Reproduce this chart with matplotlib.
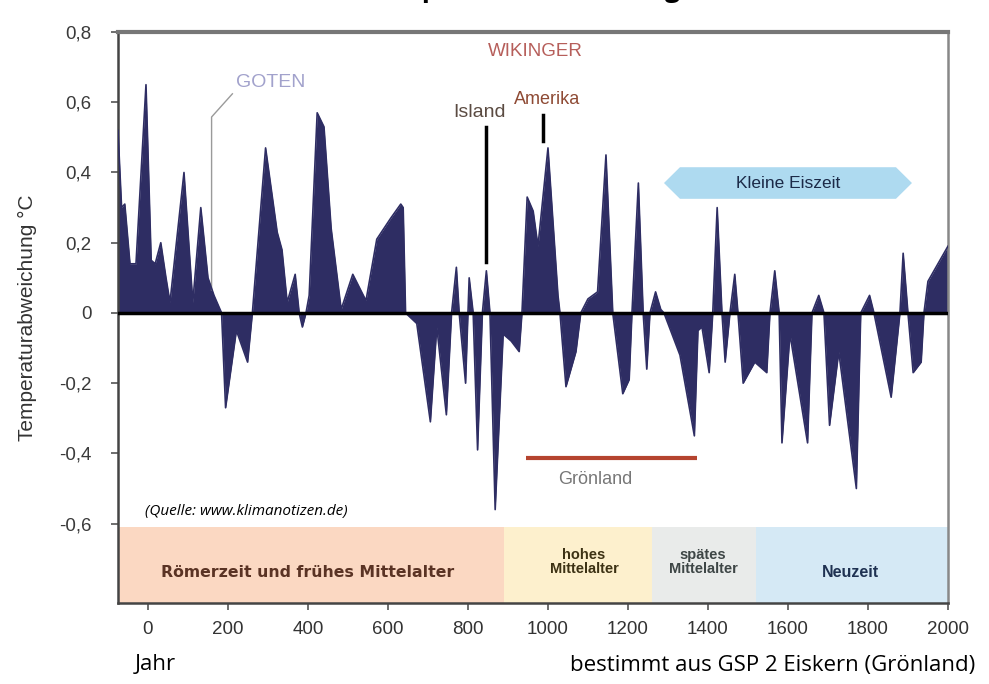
import numpy as np
import matplotlib.pyplot as plt
from matplotlib.patches import Polygon

years = [-75, -66, -58, -45, -30, -5, 8, 18, 32, 45, 55, 90, 112, 132, 150, 165, 184,
         194, 221, 249, 261, 294, 323, 335, 348, 368, 378, 386, 395, 403, 423, 440,
         458, 483, 512, 545, 572, 607, 632, 638, 644, 672, 706, 722, 746, 759, 771,
         778, 794, 800, 803, 813, 824, 836, 846, 855, 868, 888, 908, 928, 935, 948,
         963, 975, 1000, 1025, 1030, 1045, 1070, 1082, 1100, 1124, 1145, 1162, 1187,
         1203, 1210, 1226, 1238, 1247, 1255, 1269, 1282, 1290, 1330, 1366, 1375, 1385,
         1403, 1412, 1423, 1435, 1443, 1455, 1467, 1475, 1488, 1517, 1547, 1555, 1567,
         1578, 1585, 1605, 1649, 1660, 1677, 1690, 1704, 1727, 1771, 1782, 1804, 1815,
         1858, 1880, 1888, 1900, 1913, 1933, 1940, 1950, 2000]
temps = [0.52, 0.30, 0.31, 0.14, 0.14, 0.65, 0.15, 0.14, 0.20, 0.10, 0.03, 0.40, 0.03,
         0.30, 0.10, 0.05, 0.0, -0.27, -0.05, -0.14, 0.0, 0.47, 0.23, 0.18, 0.03, 0.11,
         0.0, -0.04, 0.0, 0.05, 0.57, 0.53, 0.24, 0.01, 0.11, 0.035, 0.21, 0.27, 0.31,
         0.30, 0.0, -0.03, -0.31, -0.04, -0.29, 0.0, 0.13, 0.0, -0.20, 0.0, 0.10, 0.0,
         -0.39, 0.0, 0.12, 0.0, -0.56, -0.06, -0.08, -0.11, 0.0, 0.33, 0.29, 0.19, 0.47,
         0.05, 0.0, -0.21, -0.11, 0.0, 0.04, 0.06, 0.45, 0.0, -0.23, -0.19, 0.0, 0.37,
         0.0, -0.16, 0.0, 0.06, 0.01, 0.0, -0.12, -0.35, -0.05, -0.04, -0.17, 0.0, 0.30,
         0.0, -0.14, 0.0, 0.11, 0.0, -0.20, -0.14, -0.17, 0.0, 0.12, 0.0, -0.37, -0.06,
         -0.37, 0.0, 0.05, 0.0, -0.32, -0.11, -0.50, 0.0, 0.05, 0.0, -0.24, 0.0, 0.17,
         0.0, -0.17, -0.14, 0.0, 0.09, 0.19]

era_labels = ['Römerzeit und frühes Mittelalter', 'hohes\nMittelalter',
              'spätes\nMittelalter', 'Neuzeit']
era_bounds = [-75, 890, 1260, 1520, 2000]
era_colors = ['#fbd8c2', '#fdf0cd', '#e9ebea', '#d5e9f5']
era_textcolors = ['#5a3324', '#3d3214', '#3e4646', '#1f3252']

xticks = list(range(0, 2001, 200))
yticks = [0.8, 0.6, 0.4, 0.2, 0, -0.2, -0.4, -0.6]
ytick_labels = ['0,8', '0,6', '0,4', '0,2', '0', '-0,2', '-0,4', '-0,6']

plt.rcParams['font.family'] = ['Liberation Sans', 'DejaVu Sans']

fig = plt.figure(figsize=(9.89, 6.84), dpi=100)
ax = fig.add_axes([0.1193, 0.1184, 0.8392, 0.8348])
ax.set_xlim(-75, 2000)
ax.set_ylim(-0.826, 0.8)

# Epochen-Bänder unten
band_top = -0.61
for i in range(len(era_labels)):
    ax.fill_between([era_bounds[i], era_bounds[i + 1]], -0.826, band_top,
                    color=era_colors[i], lw=0, zorder=0)
era_text_x = [400, 1090, 1388, 1755]
era_text_y = [-0.74, -0.71, -0.71, -0.74]
era_sizes = [11.3, 10.5, 10.5, 11.5]
for i, lab in enumerate(era_labels):
    ax.text(era_text_x[i], era_text_y[i], lab, ha='center', va='center',
            fontsize=era_sizes[i], fontweight='bold', color=era_textcolors[i],
            linespacing=1.0, family=['DejaVu Sans'] if i == 0 else ['Liberation Sans'])

# Temperaturkurve
navy = '#2e2d63'
ax.fill_between(years, temps, 0, color=navy, lw=0, zorder=2)
ax.plot(years, temps, color=navy, lw=1.2, zorder=3)
ax.axhline(0, color='black', lw=2.5, zorder=4)

# Annotationen
ax.text(968, 0.745, 'WIKINGER', ha='center', va='center', fontsize=13.5,
        color='#b65e5a')
ax.text(308, 0.657, 'GOTEN', ha='center', va='center', fontsize=14,
        color='#a2a2cc')
ax.plot([211, 159, 159], [0.624, 0.558, 0.065], color='#9a9a9a', lw=1)
ax.text(828, 0.572, 'Island', ha='center', va='center', fontsize=14,
        color='#5b4b42')
ax.plot([846, 846], [0.53, 0.145], color='black', lw=2.5)
ax.text(998, 0.608, 'Amerika', ha='center', va='center', fontsize=13,
        color='#8e4a34')
ax.plot([988, 988], [0.565, 0.49], color='black', lw=2.5)

# Kleine Eiszeit Pfeil
ice_x0, ice_x1, ice_y, ice_h, ice_head = 1290, 1910, 0.37, 0.045, 40
ax.add_patch(Polygon([(ice_x0, ice_y), (ice_x0 + ice_head, ice_y + ice_h),
                      (ice_x1 - ice_head, ice_y + ice_h), (ice_x1, ice_y),
                      (ice_x1 - ice_head, ice_y - ice_h), (ice_x0 + ice_head, ice_y - ice_h)],
                     closed=True, color='#aedaf0', lw=0, zorder=1))
ax.text(1600, ice_y, 'Kleine Eiszeit', ha='center', va='center', fontsize=12.5,
        color='#1b2a48')

# Grönland
ax.plot([945, 1373], [-0.413, -0.413], color='#b5442f', lw=3, solid_capstyle='butt')
ax.text(1119, -0.475, 'Grönland', ha='center', va='center', fontsize=13,
        color='#777777')

ax.text(-8, -0.564, '(Quelle: www.klimanotizen.de)', ha='left', va='center',
        fontsize=11, style='italic', family=['Open Sans', 'DejaVu Sans'], color='black')

# Achsen
ax.set_xticks(xticks)
ax.set_xticklabels([str(t) for t in xticks], fontsize=13.5, color='#333333')
ax.set_yticks(yticks)
ax.set_yticklabels(ytick_labels, fontsize=13.5, color='#3a3a3a')
ax.tick_params(axis='both', direction='out', length=5, width=1.2, color='#555555')
ax.tick_params(axis='x', pad=8)
ax.tick_params(axis='y', pad=14)
for side in ['left', 'bottom', 'right']:
    ax.spines[side].set_color('#444444')
    ax.spines[side].set_linewidth(1.8)
ax.spines['right'].set_color('#888888')
ax.spines['top'].set_color('#777777')
ax.spines['top'].set_linewidth(3)
ax.set_ylabel('Temperaturabweichung °C', fontsize=15, color='#333333', labelpad=16)

# Titel (oben abgeschnitten) und Fußzeile
fig.text(0.53, 1.005, 'Temperaturabweichung', ha='center', va='baseline',
         fontsize=19, fontweight='bold', family=['Open Sans', 'DejaVu Sans'])
fig.text(135 / 989, 1 - 665 / 684, 'Jahr', ha='left', va='center', fontsize=16,
         family=['Open Sans', 'DejaVu Sans'])
fig.text(975 / 989, 1 - 665 / 684, 'bestimmt aus GSP 2 Eiskern (Grönland)', ha='right',
         va='center', fontsize=16, family=['Open Sans', 'DejaVu Sans'])

fig.savefig('out.png', dpi=100)
